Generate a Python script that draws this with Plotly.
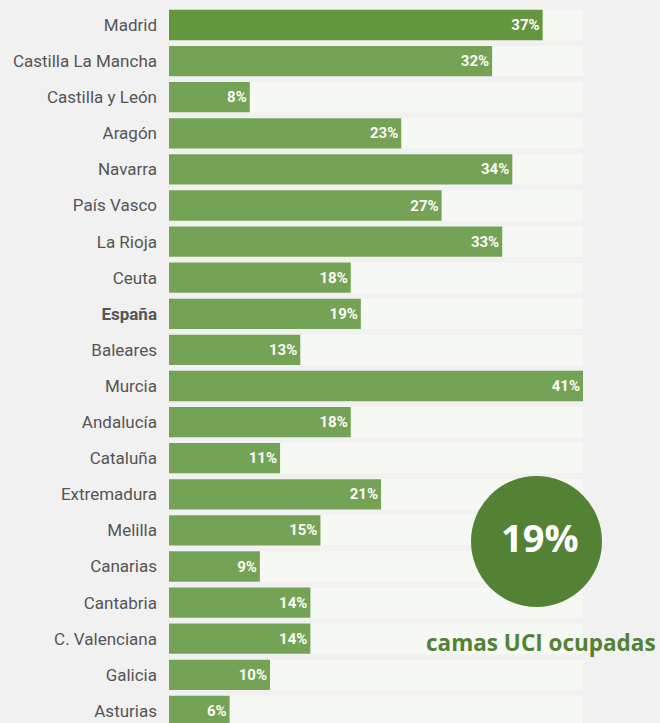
import plotly.graph_objects as go

regions = ["Madrid", "Castilla La Mancha", "Castilla y León", "Aragón", "Navarra",
           "País Vasco", "La Rioja", "Ceuta", "España", "Baleares", "Murcia",
           "Andalucía", "Cataluña", "Extremadura", "Melilla", "Canarias",
           "Cantabria", "C. Valenciana", "Galicia", "Asturias"]
values = [37, 32, 8, 23, 34, 27, 33, 18, 19, 13, 41, 18, 11, 21, 15, 9, 14, 14, 10, 6]
tick_labels = ["<b>%s</b>" % r if r == "España" else r for r in regions]
track_max = max(values)
headline = "19%"
subtitle = "camas UCI ocupadas"

bar_colors = ["#64963f" if r == "Madrid" else "#75a356" for r in regions]

fig = go.Figure()
# fondo gris claro de cada fila
fig.add_trace(go.Bar(
    y=regions, x=[track_max] * len(regions), orientation="h",
    marker=dict(color="#f6f8f3", line=dict(width=0)),
    width=0.84, hoverinfo="skip", showlegend=False,
))
fig.add_trace(go.Bar(
    y=regions, x=values, orientation="h",
    marker=dict(color=bar_colors, line=dict(width=0)),
    width=0.84,
    text=["%d%%" % v for v in values], textposition="inside",
    insidetextanchor="end", textangle=0,
    textfont=dict(family="Roboto", size=15, color="#fbfbf8", weight="bold"),
    showlegend=False,
))

px_per_unit = 414 / track_max
fig.update_layout(
    width=660, height=723,
    barmode="overlay",
    paper_bgcolor="#f1f1f1", plot_bgcolor="#f1f1f1",
    margin=dict(l=169, r=0, t=0, b=0),
    xaxis=dict(range=[0, 491 / px_per_unit], visible=False, fixedrange=True),
    yaxis=dict(
        type="category", categoryorder="array", categoryarray=regions,
        tickvals=regions, ticktext=tick_labels,
        range=[723 / 36.1 - 25 / 36.1, -25 / 36.1],
        showgrid=False, zeroline=False, showline=False,
        ticks="", ticklabelstandoff=11,
        tickfont=dict(family="Roboto", size=17, color="#555555"),
    ),
    uniformtext=dict(mode="show", minsize=10),
    shapes=[dict(
        type="circle", xref="paper", yref="paper",
        x0=(471 - 169) / 491, x1=(602 - 169) / 491,
        y0=1 - 607 / 723, y1=1 - 476 / 723,
        fillcolor="#538234", line=dict(width=0), layer="above",
    )],
    annotations=[
        dict(text="<b>%s</b>" % headline, xref="paper", yref="paper",
             x=(540 - 169) / 491, y=1 - 537 / 723, showarrow=False,
             xanchor="center", yanchor="middle",
             font=dict(family="Open Sans", size=38, color="white")),
        dict(text="<b>%s</b>" % subtitle, xref="paper", yref="paper",
             x=(541 - 169) / 491, y=1 - 642 / 723, showarrow=False,
             xanchor="center", yanchor="middle",
             font=dict(family="Open Sans", size=22.5, color="#538234")),
    ],
)

fig.write_html("out.html", config=dict(displayModeBar=False),
               post_script="document.body.style.margin='0';")
